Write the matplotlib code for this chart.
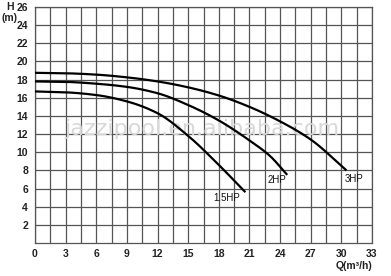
import matplotlib
matplotlib.use("Agg")
import matplotlib.pyplot as plt
import numpy as np
from matplotlib.ticker import MultipleLocator

# Data
q_3hp = [0, 3, 6, 9, 12, 15, 18, 21, 24, 27, 30.5]
h_3hp = [18.75, 18.7, 18.55, 18.25, 17.8, 17.15, 16.25, 15.0, 13.4, 11.4, 8.0]

q_2hp = [0, 3, 6, 9, 12, 15, 18, 21, 23, 24.7]
h_2hp = [17.8, 17.75, 17.55, 17.2, 16.5, 15.2, 13.5, 11.3, 9.6, 7.5]

q_15hp = [0, 3, 6, 9, 12, 15, 18, 20.6]
h_15hp = [16.7, 16.6, 16.3, 15.6, 14.3, 11.8, 8.6, 5.6]

curve_labels = ["1.5HP", "2HP", "3HP"]
label_pos_q = [18.8, 23.7, 31.2]
label_pos_h = [4.95, 6.9, 7.1]

x_ticks = list(range(0, 34, 3))
y_ticks = list(range(2, 27, 2))


def pchip(x, y, n=300):
    """Monotone cubic (Fritsch-Carlson) curve through the read points, for a smooth line."""
    x = np.asarray(x, float)
    y = np.asarray(y, float)
    h = np.diff(x)
    d = np.diff(y) / h
    m = np.zeros_like(y)
    m[0], m[-1] = d[0], d[-1]
    for i in range(1, len(x) - 1):
        if d[i - 1] * d[i] <= 0:
            m[i] = 0.0
        else:
            w1 = 2 * h[i] + h[i - 1]
            w2 = h[i] + 2 * h[i - 1]
            m[i] = (w1 + w2) / (w1 / d[i - 1] + w2 / d[i])
    xs = np.linspace(x[0], x[-1], n)
    idx = np.clip(np.searchsorted(x, xs) - 1, 0, len(x) - 2)
    t = (xs - x[idx]) / h[idx]
    h00 = 2 * t**3 - 3 * t**2 + 1
    h10 = t**3 - 2 * t**2 + t
    h01 = -2 * t**3 + 3 * t**2
    h11 = t**3 - t**2
    ys = h00 * y[idx] + h10 * h[idx] * m[idx] + h01 * y[idx + 1] + h11 * h[idx] * m[idx + 1]
    return xs, ys


fig = plt.figure(figsize=(3.91, 2.76), dpi=100)
ax = fig.add_axes([35/391, 1 - 243/276, (372-35)/391, (243-7)/276])

font = "Liberation Sans"
tick_kw = dict(fontsize=7.5, fontweight="bold", family=font, color="#222222")

ax.set_xlim(0, 33)
ax.set_ylim(0, 26)
ax.xaxis.set_major_locator(MultipleLocator(3))
ax.xaxis.set_minor_locator(MultipleLocator(1.5))
ax.yaxis.set_major_locator(MultipleLocator(2))
ax.grid(which="both", color="#555555", linewidth=0.9)
ax.set_axisbelow(True)
for s in ax.spines.values():
    s.set_color("#555555")
    s.set_linewidth(0.9)
ax.tick_params(which="both", length=0)
ax.set_xticks(x_ticks)
ax.set_xticklabels([str(v) for v in x_ticks], **tick_kw)
ax.set_yticks(y_ticks)
ax.set_yticklabels([str(v) for v in y_ticks], **tick_kw)
ax.tick_params(axis="x", pad=4)
ax.tick_params(axis="y", pad=5)

# watermark
ax.text(16.3, 12.6, "jazzipool.en.alibaba.com", fontsize=16, color="#d8d8d8",
        family="DejaVu Sans", ha="center", va="center", zorder=1)

for q, h in [(q_3hp, h_3hp), (q_2hp, h_2hp), (q_15hp, h_15hp)]:
    xs, ys = pchip(q, h)
    ax.plot(xs, ys, color="black", linewidth=1.6, zorder=3, solid_capstyle="butt")

for lab, lq, lh in zip(curve_labels, label_pos_q, label_pos_h):
    ax.text(lq, lh, lab, fontsize=7, family=font, ha="center", va="center",
            color="#111111", zorder=4)

fig.text(10/391, 1 - 7/276, "H", fontsize=7.5, fontweight="bold", family=font,
         ha="center", va="center", color="#222222")
fig.text(10/391, 1 - 18/276, "(m)", fontsize=7.5, fontweight="bold", family=font,
         ha="center", va="center", color="#222222")
fig.text(372/391, 1 - 266/276, "Q(m³/h)", fontsize=7.5, fontweight="bold", family=font,
         ha="right", va="center", color="#222222")

fig.savefig("out.png", dpi=100)
